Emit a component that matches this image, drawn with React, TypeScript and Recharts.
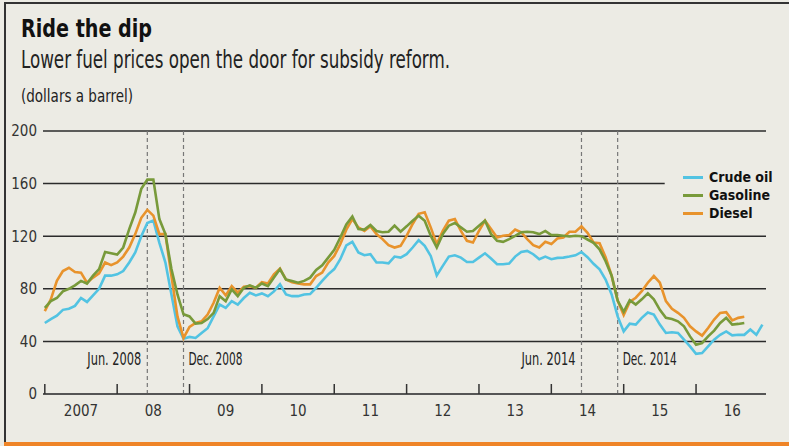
import { LineChart, Line, XAxis, YAxis, ReferenceLine } from "recharts";

// monthly values, Jan 2007 = index 0
const crude = [
  54, 57, 59.6, 64, 64.8, 67, 73, 70, 75, 80, 90, 90,
  91, 93.5, 100, 107.6, 120, 130, 132, 115, 100, 75.7, 51.5, 42,
  43.4, 42.6, 46.4, 50, 59, 68, 65.5, 70.6, 68, 73, 77, 75,
  76.5, 74.4, 78, 83.4, 75.7, 74.4, 74.4, 75.7, 76, 80.8, 86, 91,
  95, 102.5, 113, 115.7, 107.6, 105.5, 106.3, 100, 100, 99.4, 104.5, 103.7,
  106.3, 111.4, 117, 112.7, 105, 90.2, 97.4, 104.5, 105.5, 103.7, 100.4, 100.4,
  103.7, 107, 103, 98.7, 98.7, 99.2, 104.5, 108, 108.8, 106.3, 102.5, 104.5,
  102.5, 103.5, 103.7, 104.5, 105.5, 108, 104, 99, 94.8, 87, 75.7, 59,
  47.6, 53.5, 52.8, 57.9, 62, 60.4, 52.8, 46.4, 46.9, 46.4, 41.3, 36.2,
  30.6, 31.1, 36.2, 41.3, 45, 47.6, 44.6, 45, 45, 49, 45, 52.8,
];

const gasoline = [
  65.5, 70.6, 73, 78, 80, 82.6, 86, 84, 90, 95, 108, 107,
  106, 111.4, 125.4, 138, 156, 163, 163, 133, 121.6, 95, 75.7, 60.6,
  59, 53.5, 54, 57, 61.7, 74.4, 70.6, 79.5, 74.4, 80.8, 82.6, 80.8,
  84, 82, 88.5, 95, 87, 86, 84.6, 86, 88.5, 94.3, 97.9, 103.7,
  109.6, 119, 129, 135, 125.4, 125, 128.5, 124, 123, 123.4, 128, 123.4,
  127.5, 131.8, 135.6, 131.8, 120.3, 111.4, 121.6, 128, 130, 126.7, 123.4, 124,
  128, 131.8, 121.6, 116.5, 115.7, 117.8, 120.3, 123, 123.4, 123, 121.6, 124,
  120.8, 120.8, 120.3, 119.8, 120.3, 120, 117.5, 115, 110, 101, 90, 71,
  62.5, 71.4, 68, 72, 76.5, 72, 64, 57.9, 57, 55.3, 51.5, 43.8,
  37.5, 38.8, 43.8, 48.2, 54, 57.9, 52.8, 53.3, 54,
];

const diesel = [
  63, 72, 86, 93.5, 96, 92.8, 92.3, 84.6, 88.5, 91.8, 100, 98,
  100, 104.5, 111.4, 121.6, 134, 140, 135.6, 121.6, 121.6, 89.7, 59, 42.6,
  51, 54, 55.3, 60.4, 69.4, 80.8, 75, 82, 77, 81.6, 82, 80.8,
  85, 84, 91, 95.4, 87, 85, 84, 83.4, 83.4, 89.7, 92.3, 100,
  105, 114, 125, 133, 126.7, 124, 127.5, 121.6, 117.8, 113.2, 111.4, 112.7,
  120.3, 129.3, 137, 138.2, 126.7, 114, 124, 131.8, 133, 124, 116.5, 115.2,
  124, 131.8, 125.4, 119, 120.3, 120.8, 125, 123, 117.8, 113.2, 111.4, 115.7,
  114, 118.3, 119, 123.4, 123.4, 127.5, 122.5, 115.2, 114.7, 104, 90, 71,
  60, 70, 73.2, 78.2, 84.6, 89.7, 84.6, 70.6, 64.8, 61.7, 57.9, 51.5,
  47.6, 44.4, 50.2, 56.6, 61.7, 62.2, 56, 57.9, 58.7,
];

const years = ["2007", "08", "09", "10", "11", "12", "13", "14", "15", "16"];
const yTicks = [0, 40, 80, 120, 160, 200];
const markerMonths = [17, 23, 89, 95];
const markerLabels = ["Jun. 2008", "Dec. 2008", "Jun. 2014", "Dec. 2014"];
const seriesNames = ["Crude oil", "Gasoline", "Diesel"];
const seriesColors = ["#52c3e2", "#789a3a", "#e8932c"];

const data = crude.map((c, i) => ({ m: i, crude: c, gasoline: gasoline[i], diesel: diesel[i] }));
const yearStarts = years.map((_, i) => i * 12);
const yearMids = years.map((_, i) => i * 12 + 6);

const FONT = "'Liberation Sans Narrow', 'DejaVu Sans Condensed', 'Arial Narrow', sans-serif";
const X_DOMAIN = [-0.3, 119.6];

const YearTick = (props: any) => {
  const { x, y } = props;
  return <line x1={x} x2={x} y1={y - 10} y2={y} stroke="#333" strokeWidth={1.5} />;
};

const markerLabel = (text: string, left: boolean) => (props: any) => {
  const vb = props.viewBox;
  const bottom = vb.y + vb.height;
  return (
    <text
      x={left ? vb.x - 6 : vb.x + 5}
      y={bottom - 29}
      textAnchor={left ? "end" : "start"}
      fontFamily={FONT}
      fontSize={17}
      fill="#222"
      textLength={54}
      lengthAdjust="spacingAndGlyphs"
    >
      {text}
    </text>
  );
};

export default function App() {
  return (
    <div style={{ position: "absolute", left: 0, top: 0, width: 789, height: 446, background: "#ecebe4", overflow: "hidden" }}>
      <div style={{ position: "absolute", left: 4, top: 2, width: 785, height: 2, background: "#333" }} />
      <div style={{ position: "absolute", left: 4, top: 2, width: 2, height: 440, background: "#333" }} />
      <div style={{ position: "absolute", left: 4, top: 442, width: 785, height: 4, background: "#ef8427" }} />
      <svg width={789} height={120} style={{ position: "absolute", left: 0, top: 0 }}>
        <text x={21} y={37} fontFamily={FONT} fontWeight={700} fontSize={25} fill="#111" textLength={131} lengthAdjust="spacingAndGlyphs">
          Ride the dip
        </text>
        <text x={21} y={68} fontFamily={FONT} fontSize={24} fill="#222" textLength={429} lengthAdjust="spacingAndGlyphs">
          Lower fuel prices open the door for subsidy reform.
        </text>
        <text x={21} y={102} fontFamily={FONT} fontSize={17} fill="#222" textLength={112} lengthAdjust="spacingAndGlyphs">
          (dollars a barrel)
        </text>
      </svg>
      <div style={{ position: "absolute", left: 0, top: 0 }}>
        <LineChart width={789} height={446} data={data} margin={{ top: 131, right: 23, left: 13, bottom: 11 }}>
          <XAxis
            dataKey="m"
            type="number"
            domain={X_DOMAIN}
            allowDataOverflow
            ticks={yearStarts}
            tick={<YearTick />}
            tickLine={false}
            tickSize={0}
            tickMargin={0}
            height={1}
            axisLine={{ stroke: "#555", strokeWidth: 2 }}
          />
          <XAxis
            xAxisId="yr"
            dataKey="m"
            type="number"
            domain={X_DOMAIN}
            allowDataOverflow
            ticks={yearMids}
            tickFormatter={(v: number) => years[Math.round((v - 6) / 12)]}
            tickLine={false}
            axisLine={false}
            tickSize={0}
            tickMargin={10}
            height={40}
            tick={{ fontFamily: FONT, fontSize: 15, fill: "#333" }}
          />
          <YAxis
            type="number"
            domain={[0, 200]}
            ticks={yTicks}
            width={30}
            tickLine={false}
            axisLine={false}
            tickSize={0}
            tickMargin={6}
            tick={{ fontFamily: FONT, fontSize: 15, fill: "#333" }}
          />
          {[40, 80, 120, 200].map((v) => (
            <ReferenceLine key={v} y={v} stroke="#2b2b2b" strokeWidth={1.5} />
          ))}
          <ReferenceLine
            segment={[{ x: X_DOMAIN[0], y: 160 }, { x: 102.8, y: 160 }]}
            stroke="#2b2b2b"
            strokeWidth={1.5}
          />
          {markerMonths.map((m, i) => (
            <ReferenceLine
              key={m}
              x={m}
              stroke="#777"
              strokeWidth={1.2}
              strokeDasharray="4 3"
              label={markerLabel(markerLabels[i], i % 2 === 0)}
            />
          ))}
          <Line type="linear" dataKey="crude" name={seriesNames[0]} stroke={seriesColors[0]} strokeWidth={2.6} dot={false} isAnimationActive={false} />
          <Line type="linear" dataKey="diesel" name={seriesNames[2]} stroke={seriesColors[2]} strokeWidth={2.6} dot={false} isAnimationActive={false} />
          <Line type="linear" dataKey="gasoline" name={seriesNames[1]} stroke={seriesColors[1]} strokeWidth={2.6} dot={false} isAnimationActive={false} />
        </LineChart>
      </div>
      <div style={{ position: "absolute", left: 683, top: 168, fontFamily: FONT, fontWeight: 700, fontSize: 14, color: "#111" }}>
        {seriesNames.map((n, i) => (
          <div key={n} style={{ display: "flex", alignItems: "center", height: 18 }}>
            <span style={{ width: 20, height: 3, background: seriesColors[i], marginRight: 6, display: "inline-block" }} />
            {n}
          </div>
        ))}
      </div>
    </div>
  );
}
